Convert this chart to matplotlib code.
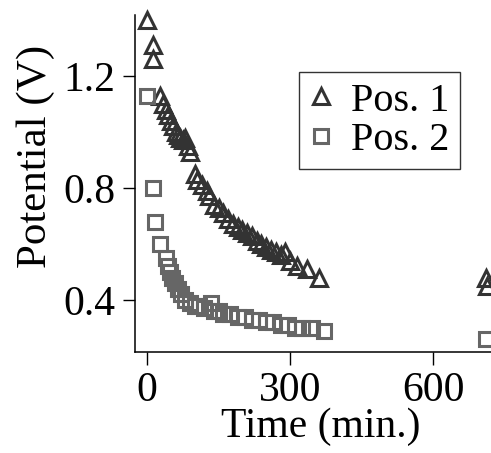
import matplotlib
matplotlib.use("Agg")
import matplotlib.pyplot as plt

# Position 1 (triangles): time in minutes, potential in volts
pos1_time = [0, 12, 13, 28, 33, 40, 45, 50, 55, 60, 65, 70, 75, 80, 85, 90,
             100, 105, 115, 125, 130, 140, 150, 160, 170, 180, 190, 200, 210,
             220, 230, 240, 250, 260, 270, 280, 290, 300, 315, 335, 360, 710, 712]
pos1_volt = [1.40, 1.31, 1.26, 1.13, 1.10, 1.08, 1.06, 1.04, 1.02, 1.00, 0.99,
             0.98, 0.97, 0.98, 0.95, 0.93, 0.85, 0.83, 0.81, 0.79, 0.77, 0.74,
             0.73, 0.71, 0.69, 0.67, 0.66, 0.65, 0.64, 0.63, 0.61, 0.60, 0.59,
             0.58, 0.57, 0.56, 0.57, 0.54, 0.52, 0.51, 0.48, 0.48, 0.45]

# Position 2 (squares)
pos2_time = [0, 12, 16, 28, 40, 45, 48, 52, 58, 65, 72, 80, 90, 100, 110, 120,
             135, 140, 150, 160, 175, 190, 205, 220, 235, 250, 265, 280, 295,
             310, 325, 345, 370, 710]
pos2_volt = [1.13, 0.80, 0.68, 0.60, 0.55, 0.52, 0.50, 0.48, 0.46, 0.44, 0.42,
             0.40, 0.39, 0.38, 0.38, 0.37, 0.39, 0.36, 0.36, 0.35, 0.35, 0.34,
             0.34, 0.33, 0.33, 0.32, 0.32, 0.31, 0.31, 0.30, 0.30, 0.30, 0.29,
             0.26]

x_ticks = [0, 300, 600]
y_ticks = [0.4, 0.8, 1.2]
y_tick_labels = ["0.4", "0.8", "1.2"]

plt.rcParams["font.family"] = ["Liberation Serif", "DejaVu Serif"]

fig = plt.figure(figsize=(4.91, 4.53), dpi=100)
ax = fig.add_axes([0.275, 0.223, 0.725, 0.744])

ax.plot(pos1_time, pos1_volt, linestyle="none", marker="^", markersize=11,
        markerfacecolor="none", markeredgecolor="#333333", markeredgewidth=2.2,
        label="Pos. 1", clip_on=False)
ax.plot(pos2_time, pos2_volt, linestyle="none", marker="s", markersize=9.5,
        markerfacecolor="none", markeredgecolor="#666666", markeredgewidth=2.2,
        label="Pos. 2", clip_on=False)

ax.set_xlim(-25, 721)
ax.set_ylim(0.214, 1.418)
ax.set_xticks(x_ticks)
ax.set_yticks(y_ticks)
ax.set_yticklabels(y_tick_labels)

for side in ("top", "right"):
    ax.spines[side].set_visible(False)
for side in ("left", "bottom"):
    ax.spines[side].set_linewidth(1.1)

ax.tick_params(axis="both", direction="out", length=9, width=1.0,
               labelsize=30, pad=5)

ax.set_xlabel("Time (min.)", fontsize=30)
ax.set_ylabel("Potential (V)", fontsize=31)
ax.xaxis.set_label_coords(0.522, -0.166)
ax.yaxis.set_label_coords(-0.226, 0.579)

leg = ax.legend(loc="upper left", bbox_to_anchor=(0.46, 0.83), fontsize=29,
                frameon=True, fancybox=False, borderpad=0.25,
                handlelength=0.6, handletextpad=0.45, labelspacing=0.05,
                borderaxespad=0)
leg.get_frame().set_edgecolor("black")
leg.get_frame().set_linewidth(1.0)

fig.savefig("out.png", dpi=100)
